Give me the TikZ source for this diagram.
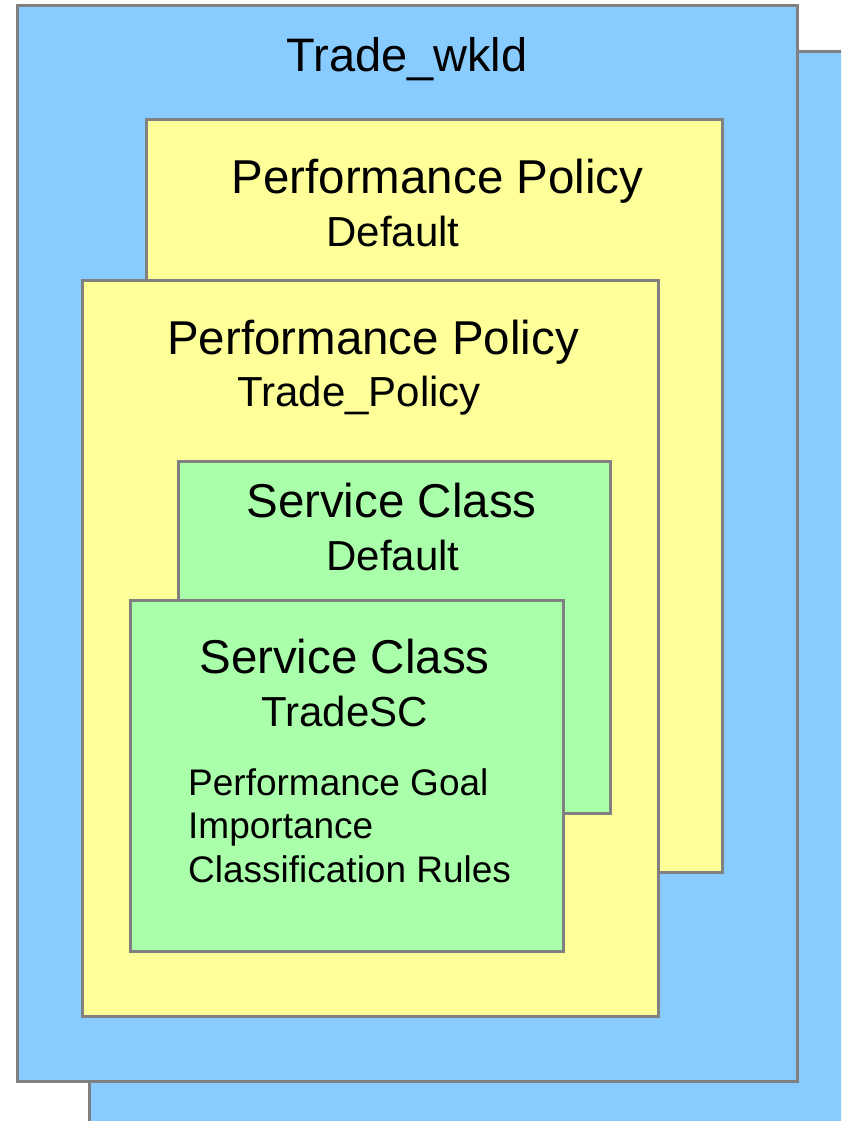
\documentclass[tikz,border=0pt]{standalone}
\usepackage{fontspec}
\setmainfont{Liberation Sans}
\definecolor{wblue}{RGB}{136,204,255}
\definecolor{pyellow}{RGB}{255,255,153}
\definecolor{sgreen}{RGB}{170,255,170}
\definecolor{edgegray}{RGB}{128,128,128}
\begin{document}
\begin{tikzpicture}[x=1pt,y=-1pt,
  boxline/.style={draw=edgegray,line width=3pt},
  title/.style={anchor=base,inner sep=0pt,font=\fontsize{47.5}{50}\selectfont},
  subtitle/.style={anchor=base,inner sep=0pt,font=\fontsize{42}{45}\selectfont},
  itemtext/.style={anchor=base west,inner sep=0pt,font=\fontsize{37}{40}\selectfont}]
\useasboundingbox (0,0) rectangle (841,1121);
\clip (0,0) rectangle (841,1121);
% workload boxes
\filldraw[boxline,fill=wblue] (89,52) rectangle (860,1140);
\filldraw[boxline,fill=wblue] (17,6) rectangle (797,1081);
\node[title,font=\fontsize{47}{50}\selectfont] (wkld) at (407,72) {Trade\_wkld};
% policies
\filldraw[boxline,fill=pyellow] (146,120) rectangle (722,872);
\node[title] (pp1) at (437.5,193) {Performance Policy};
\node[subtitle] (pp1n) at (393,246) {Default};
\filldraw[boxline,fill=pyellow] (82,280) rectangle (658,1016);
\node[title] (pp2) at (373,354) {Performance Policy};
\node[subtitle] (pp2n) at (359,406) {Trade\_Policy};
% service classes
\filldraw[boxline,fill=sgreen] (178,461) rectangle (610,813);
\node[title] (sc1) at (391.5,517) {Service Class};
\node[subtitle] (sc1n) at (393,570) {Default};
\filldraw[boxline,fill=sgreen] (130,600) rectangle (563,951);
\node[title] (sc2) at (344.5,673) {Service Class};
\node[subtitle] (sc2n) at (344.5,726) {TradeSC};
\node[itemtext] (goal) at (188,795) {Performance Goal};
\node[itemtext] (imp) at (188,838) {Importance};
\node[itemtext] (rules) at (188,882) {Classification Rules};
\end{tikzpicture}
\end{document}
